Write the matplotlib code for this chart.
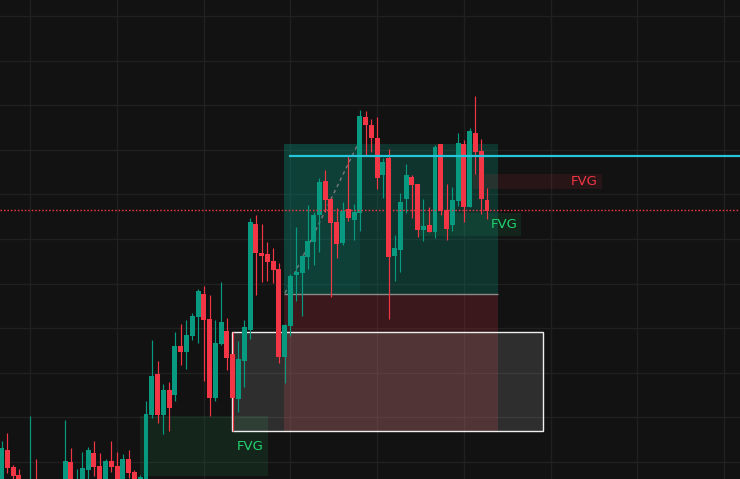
import matplotlib
matplotlib.use('Agg')
import matplotlib.pyplot as plt
from matplotlib.patches import Rectangle
import numpy as np

# ---- OHLC data (arbitrary price units) ----
opens = [12, 50, 33, 25, 14, 8, 19, 10, 4, 10,
         16, 12, 38, 12, 18, 30, 47, 34, 14, 39,
         34, 16, 41, 28, 18, 18, 85, 126, 85, 110,
         105, 154, 148, 164, 183, 206, 181, 102, 156, 169,
         146, 101, 139, 170, 276, 247, 246, 239, 231, 143,
         174, 225, 227, 243, 258, 285, 319, 301, 278, 257,
         291, 280, 287, 383, 375, 362, 325, 342, 244, 250,
         301, 323, 316, 270, 275, 268, 356, 290, 275, 299,
         356, 293, 367, 349, 300]
highs = [59, 67, 35, 31, 18, 84, 41, 14, 16, 19,
         19, 80, 52, 31, 48, 53, 59, 47, 41, 59,
         48, 46, 50, 30, 25, 99, 160, 139, 116, 118,
         168, 176, 180, 187, 211, 214, 205, 180, 218, 182,
         168, 159, 180, 282, 285, 276, 258, 252, 237, 176,
         226, 273, 245, 295, 288, 322, 330, 302, 292, 298,
         345, 296, 390, 389, 381, 383, 342, 351, 265, 307,
         336, 325, 316, 301, 293, 355, 356, 316, 313, 367,
         360, 372, 404, 361, 312]
lows = [5, 27, 20, 8, 2, 4, 5, 1, 1, 6,
        4, 8, 10, 8, 14, 19, 24, 10, 10, 28,
        12, 12, 22, 14, 15, 16, 82, 77, 66, 69,
        99, 135, 131, 160, 157, 119, 84, 99, 155, 130,
        69, 88, 113, 161, 205, 218, 219, 217, 137, 117,
        164, 199, 184, 231, 235, 248, 288, 203, 242, 255,
        279, 260, 269, 345, 348, 311, 302, 181, 219, 228,
        287, 282, 263, 259, 268, 262, 285, 260, 269, 294,
        278, 293, 326, 286, 281]
closes = [52, 32, 24, 14, 6, 18, 10, 3, 12, 16,
          8, 39, 15, 18, 32, 50, 33, 14, 39, 33,
          16, 41, 27, 18, 23, 86, 124, 85, 110, 92,
          154, 148, 165, 184, 209, 180, 102, 157, 178, 142,
          102, 141, 173, 278, 247, 244, 238, 230, 143, 175,
          224, 228, 244, 259, 285, 318, 300, 277, 256, 289,
          282, 288, 384, 375, 362, 322, 338, 243, 252, 298,
          325, 315, 270, 274, 268, 353, 289, 271, 300, 357,
          293, 369, 348, 301, 289]

# ---- zones: (start bar, end bar, low price, high price) ----
fvg_bull_1 = (24.0, 46.1, 24, 84)
fvg_bull_2 = (72.0, 89.9, 264, 287)
fvg_bear_1 = (81.6, 103.9, 311, 326)
teal_zone = (48.9, 85.9, 206, 356)
teal_zone_inner = (48.9, 62.0, 206, 356)
red_zone = (48.9, 85.9, 69, 206)
white_box = (39.9, 93.7, 69, 168)
cyan_level = (49.7, 344)
red_dotted_level = 290
dashed_path_x = [49.05, 61.5]
dashed_path_y = [207, 354]

UP = '#089981'
DOWN = '#f23645'
BG = '#121212'
LABEL_GREEN = '#22d36e'

fig = plt.figure(figsize=(7.4, 4.79), dpi=100)
fig.patch.set_facecolor(BG)
ax = fig.add_axes([0, 0, 1, 1])
ax.set_facecolor(BG)

n = len(opens)
x = np.arange(n)
ax.set_xlim(-0.26, 127.77)
ax.set_ylim(21, 500)

# grid
ax.set_xticks(np.arange(5, 128, 15))
ax.set_yticks(np.arange(38, 500, 44.6))
ax.grid(True, color='#202020', linewidth=1.0)
ax.set_axisbelow(True)
ax.tick_params(length=0, labelbottom=False, labelleft=False)
for s in ax.spines.values():
    s.set_visible(False)


def zone(z, color, alpha, zorder, ec='none', lw=0):
    x0, x1, y0, y1 = z
    ax.add_patch(Rectangle((x0, y0), x1 - x0, y1 - y0, facecolor=color,
                           alpha=alpha, edgecolor='none', zorder=zorder))
    if ec != 'none':
        ax.add_patch(Rectangle((x0, y0), x1 - x0, y1 - y0, facecolor='none',
                               edgecolor=ec, linewidth=lw, zorder=zorder + 0.5))


zone(fvg_bull_1, '#22ab5e', 0.13, 1)
zone(teal_zone, UP, 0.25, 1.1)
zone(teal_zone_inner, UP, 0.13, 1.2)
zone(red_zone, DOWN, 0.18, 1.3)
zone(white_box, '#ffffff', 0.12, 1.4, ec='#eeeeee', lw=1.0)
zone(fvg_bear_1, DOWN, 0.10, 1.5)
zone(fvg_bull_2, '#22ab5e', 0.12, 1.6)

# teal/red separator
ax.hlines(teal_zone[2], teal_zone[0], teal_zone[1], colors='#8a8a8a',
          linewidth=1.0, zorder=1.7)

# candles
o = np.array(opens, float)
c = np.array(closes, float)
h = np.array(highs, float)
l = np.array(lows, float)
cols = [UP if cc >= oo else DOWN for oo, cc in zip(o, c)]
ax.vlines(x, l, h, colors=cols, linewidth=0.85, zorder=3)
bottoms = np.minimum(o, c)
heights = np.maximum(np.abs(c - o), 1.2)
ax.bar(x, heights, bottom=bottoms, width=0.86, color=cols, linewidth=0, zorder=4)

# dashed path
ax.plot(dashed_path_x, dashed_path_y, color='#7a7a7a', linewidth=1.0,
        linestyle=(0, (2.5, 2.5)), zorder=2.5)

# levels
ax.hlines(cyan_level[1], cyan_level[0], 130, colors='#26c6da', linewidth=1.6, zorder=5)
ax.axhline(red_dotted_level, color=DOWN, linewidth=1.0,
           linestyle=(0, (1.1, 1.4)), zorder=5)

# labels
fam = ['Liberation Sans Narrow', 'DejaVu Sans']
ax.text(43.0, 54, 'FVG', color=LABEL_GREEN, fontsize=9.5, family=fam,
        ha='center', va='center', zorder=6)
ax.text(86.9, 276, 'FVG', color=LABEL_GREEN, fontsize=9.5, family=fam,
        ha='center', va='center', zorder=6)
ax.text(100.8, 319, 'FVG', color=DOWN, fontsize=9.5, family=fam,
        ha='center', va='center', zorder=6)

fig.savefig('out.png', dpi=100, facecolor=BG)
